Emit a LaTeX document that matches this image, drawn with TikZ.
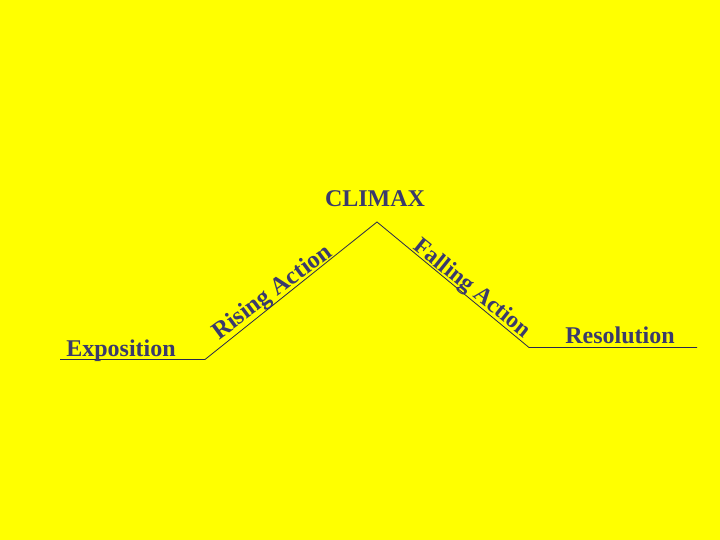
\documentclass[tikz,border=0pt]{standalone}
\usepackage{fontspec}
\setmainfont{Liberation Serif}
\usetikzlibrary{decorations.text}
\definecolor{ink}{RGB}{58,58,108}
\definecolor{bgyellow}{RGB}{255,255,0}
\tikzset{
  label/.style={font=\bfseries\fontsize{24}{24}\selectfont, text=ink, inner sep=0pt, anchor=base},
  plotline/.style={draw=ink!70!black, line width=0.8pt},
  slopetext/.style 2 args={decorate, decoration={text along path, text color=ink,
     text={|\bfseries\fontsize{#1}{#1}\selectfont|#2}}}
}
\begin{document}
\begin{tikzpicture}[x=1pt,y=-1pt]
\fill[bgyellow] (0,0) rectangle (720,540);
\useasboundingbox (0,0) rectangle (720,540);
\coordinate (e0) at (60,359.5);
\coordinate (e1) at (205,359.5);
\coordinate (peak) at (377,222);
\coordinate (r0) at (529,347.5);
\coordinate (r1) at (697,347.5);
\draw[plotline] (e0) -- (e1) -- (peak) -- (r0) -- (r1);
\coordinate (rs) at (219,340);
\coordinate (re) at (379.8,221);
\coordinate (fs) at (412.5,249);
\coordinate (fe) at (568.7,374);
\path[slopetext={24.5}{Rising Action}] (rs) -- (re);
\path[slopetext={23.5}{Falling Action}] (fs) -- (fe);
\node[label] (expo) at (121,356) {Exposition};
\node[label] (climax) at (375,206.5) {CLIMAX};
\node[label] (reso) at (620,343) {Resolution};
\end{tikzpicture}
\end{document}
